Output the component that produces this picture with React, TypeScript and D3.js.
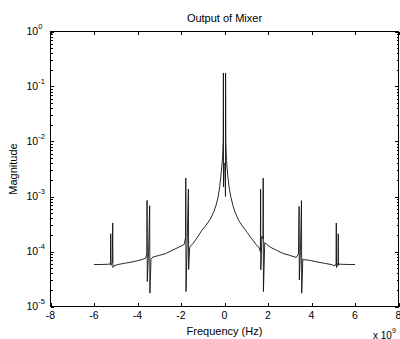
import React, { useRef, useEffect } from "react";
import * as d3 from "d3";

// frequency in units of 1e9 Hz, magnitude
const FREQ = [
  -6.0, -5.7, -5.4, -5.27, -5.24, -5.23, -5.22, -5.16, -5.14, -5.13, -5.08, -4.9, -4.6, -4.3,
  -4.0, -3.8, -3.62, -3.57, -3.56, -3.55, -3.49, -3.44, -3.43, -3.38, -3.3, -3.0, -2.7, -2.4,
  -2.1, -1.85, -1.79, -1.78, -1.77, -1.71, -1.66, -1.65, -1.6, -1.45, -1.25, -1.05, -0.85, -0.65,
  -0.5, -0.4, -0.3, -0.22, -0.15, -0.09, -0.06, -0.05, -0.045, -0.02, 0.02, 0.045, 0.05, 0.06,
  0.09, 0.15, 0.22, 0.3, 0.4, 0.5, 0.65, 0.85, 1.05, 1.25, 1.45, 1.6, 1.65, 1.66, 1.67, 1.72,
  1.77, 1.78, 1.79, 1.85, 2.1, 2.4, 2.7, 3.0, 3.3, 3.4, 3.43, 3.44, 3.49, 3.54, 3.55, 3.6, 3.8,
  4.0, 4.3, 4.6, 4.9, 5.08, 5.13, 5.14, 5.15, 5.22, 5.23, 5.24, 5.27, 5.4, 5.7, 6.0,
];
const MAG = [
  5.8e-5, 5.8e-5, 5.85e-5, 5.9e-5, 6.4e-5, 2.1e-4, 5.6e-5, 6.3e-5, 3.3e-4, 5.1e-5, 5.5e-5, 5.8e-5, 6.1e-5, 6.4e-5,
  6.8e-5, 7.1e-5, 7.6e-5, 9.0e-5, 8.5e-4, 2.85e-5, 1.0e-4, 6.8e-4, 1.75e-5, 7.2e-5, 7.9e-5, 8.5e-5, 9.2e-5, 1.05e-4,
  1.2e-4, 1.35e-4, 1.8e-4, 2.16e-3, 1.87e-5, 1.9e-4, 1.36e-3, 4.7e-5, 1.2e-4, 1.4e-4, 1.8e-4, 2.4e-4, 3.0e-4, 3.9e-4,
  5.2e-4, 6.7e-4, 9.5e-4, 1.5e-3, 2.7e-3, 5.0e-3, 1.0e-2, 0.176, 1.5e-3, 4.0e-3, 4.0e-3, 1.0e-3, 0.176, 1.0e-2,
  4.5e-3, 2.4e-3, 1.4e-3, 9.5e-4, 6.6e-4, 5.0e-4, 3.7e-4, 2.8e-4, 2.2e-4, 1.7e-4, 1.35e-4, 1.15e-4, 1.0e-4, 1.36e-3, 4.65e-5, 1.9e-4,
  1.7e-4, 2.16e-3, 1.87e-5, 1.45e-4, 1.2e-4, 1.05e-4, 9.2e-5, 8.5e-5, 7.8e-5, 9.0e-5, 6.6e-4, 3.05e-5, 1.0e-4, 8.4e-4, 1.75e-5, 7.2e-5, 7.0e-5,
  6.8e-5, 6.4e-5, 6.1e-5, 5.8e-5, 5.5e-5, 6.0e-5, 3.3e-4, 5.1e-5, 6.4e-5, 2.1e-4, 5.6e-5, 5.9e-5, 5.85e-5, 5.8e-5, 5.8e-5,
];
const X_TICKS = [-8, -6, -4, -2, 0, 2, 4, 6, 8];
const Y_EXPONENTS = [0, -1, -2, -3, -4, -5];

const FONT = "Arial, 'Liberation Sans', Helvetica, sans-serif";

const App: React.FC = () => {
  const svgRef = useRef<SVGSVGElement | null>(null);

  useEffect(() => {
    if (!svgRef.current) return;
    const svg = d3.select(svgRef.current);
    svg.selectAll("*").remove();

    const left = 50.5, right = 398.5, top = 31.5, bottom = 306.5;
    const x = d3.scaleLinear().domain([-8, 8]).range([left, right]);
    const y = d3.scaleLog().domain([1e-5, 1]).range([bottom, top]);

    /* curve */
    const pts = FREQ.map((f, i) => [f, MAG[i]] as [number, number]);
    svg
      .append("path")
      .datum(pts)
      .attr("fill", "none")
      .attr("stroke", "#111")
      .attr("stroke-width", 0.9)
      .attr("d", d3.line<[number, number]>().x((d) => x(d[0])).y((d) => y(d[1])));

    const ax = svg.append("g").attr("stroke", "#000").attr("shape-rendering", "crispEdges");

    /* frame */
    ax.append("rect")
      .attr("x", left)
      .attr("y", top)
      .attr("width", right - left)
      .attr("height", bottom - top)
      .attr("fill", "none")
      .attr("stroke-width", 1);

    /* x ticks */
    X_TICKS.forEach((t) => {
      const px = Math.round(x(t)) + 0.5;
      ax.append("line").attr("x1", px).attr("x2", px).attr("y1", bottom).attr("y2", bottom - 3.5);
      ax.append("line").attr("x1", px).attr("x2", px).attr("y1", top).attr("y2", top + 3.5);
    });

    /* y ticks, major + minor */
    Y_EXPONENTS.forEach((e) => {
      const py = Math.round(y(Math.pow(10, e))) + 0.5;
      ax.append("line").attr("x1", left).attr("x2", left + 3.5).attr("y1", py).attr("y2", py);
      ax.append("line").attr("x1", right).attr("x2", right - 3.5).attr("y1", py).attr("y2", py);
      if (e > -5) {
        for (let k = 2; k <= 9; k++) {
          const v = k * Math.pow(10, e - 1);
          const pm = Math.round(y(v)) + 0.5;
          ax.append("line").attr("x1", left).attr("x2", left + 2).attr("y1", pm).attr("y2", pm);
          ax.append("line").attr("x1", right).attr("x2", right - 2).attr("y1", pm).attr("y2", pm);
        }
      }
    });

    const txt = svg.append("g").attr("font-family", FONT).attr("fill", "#000");

    /* x tick labels */
    txt
      .selectAll(".xt")
      .data(X_TICKS)
      .join("text")
      .attr("x", (d) => x(d))
      .attr("y", 318.5)
      .attr("text-anchor", "middle")
      .attr("font-size", "10.5px")
      .text((d) => `${d}`);

    /* y tick labels 10^e */
    Y_EXPONENTS.forEach((e) => {
      const py = y(Math.pow(10, e));
      const t = txt.append("text").attr("x", 26.5).attr("y", py + 3.8).attr("font-size", "10.5px");
      t.append("tspan").text("10");
      t.append("tspan").attr("dy", -6).attr("font-size", "7.5px").text(`${e}`);
    });

    /* titles */
    txt.append("text")
      .attr("x", (left + right) / 2)
      .attr("y", 22)
      .attr("text-anchor", "middle")
      .attr("font-size", "11px")
      .text("Output of Mixer");

    txt.append("text")
      .attr("x", (left + right) / 2)
      .attr("y", 334.5)
      .attr("text-anchor", "middle")
      .attr("font-size", "11px")
      .text("Frequency (Hz)");

    txt.append("text")
      .attr("transform", `translate(17,${(top + bottom) / 2}) rotate(-90)`)
      .attr("text-anchor", "middle")
      .attr("font-size", "11px")
      .text("Magnitude");

    const mult = txt.append("text").attr("x", 373).attr("y", 338.5).attr("font-size", "10px");
    mult.append("tspan").text("x 10");
    mult.append("tspan").attr("dy", -5.5).attr("font-size", "7px").text("9");
  }, []);

  return (
    <svg
      ref={svgRef}
      width={400}
      height={339}
      style={{ position: "absolute", left: 0, top: 0, background: "#fff" }}
    />
  );
};

export default App;
